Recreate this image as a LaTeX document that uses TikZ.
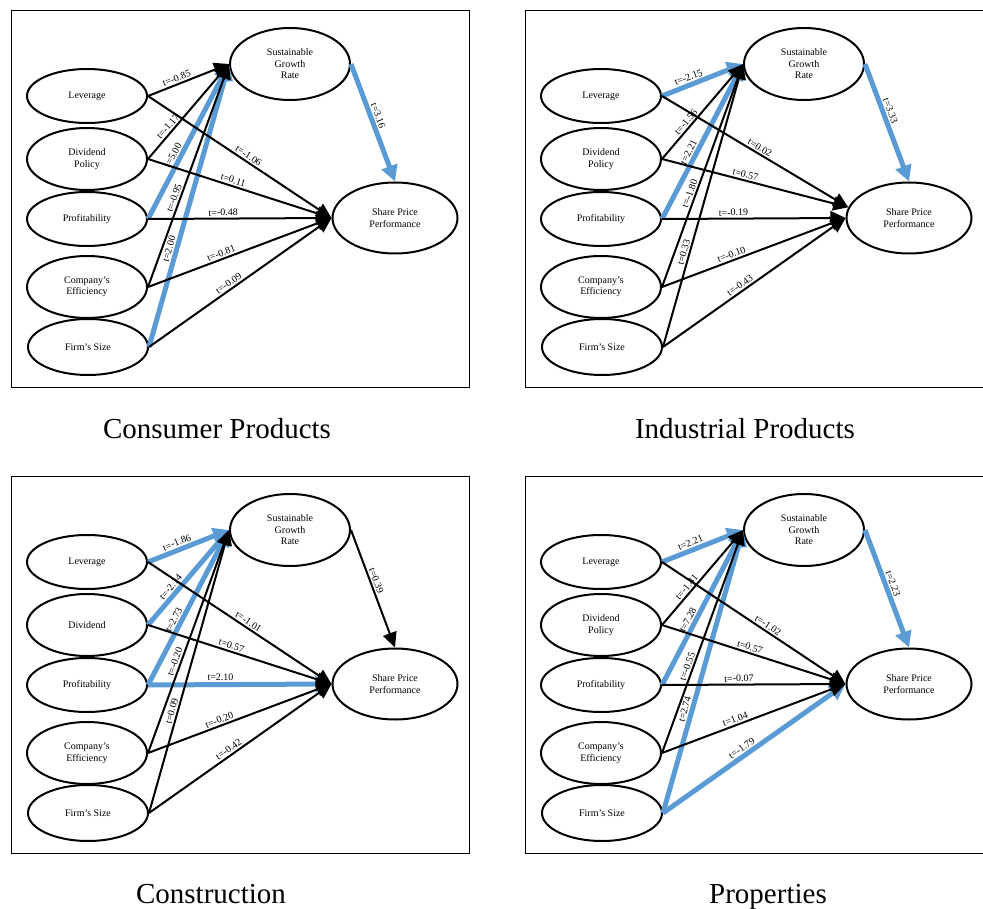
\documentclass[tikz,border=0pt]{standalone}
\usepackage{fontspec}
\setmainfont{Liberation Serif}
\usetikzlibrary{shapes.geometric,arrows.meta}
\definecolor{myblue}{RGB}{91,155,213}
\newcommand\panelnodes[4]{%
  \begin{scope}[shift={(#2,#3)}]
    \draw[panelframe] (11,10) rectangle (469,387);
    \node[var,minimum height=54pt] (#1lev) at (87,96) {Leverage};
    \node[var,minimum height=62pt] (#1div) at (87,159) {#4};
    \node[var,minimum height=54pt] (#1pro) at (87,219) {Profitability};
    \node[var,minimum height=62pt] (#1eff) at (87,287) {Company's\\Efficiency};
    \node[var,minimum height=56pt] (#1fir) at (88,347) {Firm's Size};
    \node[var,minimum height=72pt] (#1sgr) at (290,64) {Sustainable\\Growth\\Rate};
    \node[var,minimum height=71pt,minimum width=125pt] (#1spp) at (395,218) {Share Price\\Performance};
  \end{scope}}
\begin{document}
\begin{tikzpicture}[x=1pt,y=-1pt,
  var/.style={ellipse,draw,line width=2pt,minimum width=120pt,inner sep=0pt,align=center,
    font=\fontsize{10}{11.5}\selectfont},
  blk/.style={line width=2pt,-{Triangle[length=15pt,width=14pt]}},
  blu/.style={line width=5pt,draw=myblue,fill=myblue,-{Triangle[length=16pt,width=16pt]}},
  lab/.style={sloped,above,inner sep=1.5pt,font=\fontsize{10}{12}\selectfont,text=black},
  panelframe/.style={draw,line width=0.8pt},
  captext/.style={anchor=base,font=\fontsize{29}{34}\selectfont}]
\useasboundingbox (0,0) rectangle (983,909);

% ---------------- Panel A: Consumer Products
\panelnodes{A}{0}{0}{Dividend\\Policy}
\draw[blu] (Apro.east) -- (Asgr.west) node[lab,pos=.39]{t=5.00};
\draw[blu] (Afir.east) -- (Asgr.west) node[lab,pos=.34]{t=2.00};
\draw[blu] (Asgr.east) -- (Aspp.north) node[lab,pos=.46]{t=3.16};
\draw[blk] (Alev.east) -- (Asgr.west) node[lab,pos=.38]{t=-0.85};
\draw[blk] (Adiv.east) -- (Asgr.west) node[lab,pos=.30]{t=-1.17};
\draw[blk] (Aeff.east) -- (Asgr.west) node[lab,pos=.39]{t=-0.95};
\draw[blk] (Alev.east) -- (Aspp.west) node[lab,pos=.53]{t=-1.06};
\draw[blk] (Adiv.east) -- (Aspp.west) node[lab,pos=.455]{t=0.11};
\draw[blk] (Apro.east) -- (Aspp.west) node[lab,pos=.41]{t=-0.48};
\draw[blk] (Aeff.east) -- (Aspp.west) node[lab,pos=.41]{t=-0.81};
\draw[blk] (Afir.east) -- (Aspp.west) node[lab,pos=.455]{t=-0.09};
\node[captext] (capA) at (217,438) {Consumer Products};

% ---------------- Panel B: Industrial Products
\panelnodes{B}{514}{0}{Dividend\\Policy}
\draw[blu] (Blev.east) -- (Bsgr.west) node[lab,pos=.36]{t=-2.15};
\draw[blu] (Bpro.east) -- (Bsgr.west) node[lab,pos=.41]{t=2.21};
\draw[blu] (Bsgr.east) -- (Bspp.north) node[lab,pos=.42]{t=3.33};
\draw[blk] (Bdiv.east) -- (Bsgr.west) node[lab,pos=.35]{t=-1.56};
\draw[blk] (Beff.east) -- (Bsgr.west) node[lab,pos=.41]{t=-1.80};
\draw[blk] (Bfir.east) -- (Bsgr.west) node[lab,pos=.33]{t=0.33};
\draw[blk] (Blev.east) -- (Bspp.170) node[lab,pos=.51]{t=0.02};
\draw[blk] (Bdiv.east) -- (Bspp.170) node[lab,pos=.44]{t=0.57};
\draw[blk] (Bpro.east) -- (Bspp.west) node[lab,pos=.39]{t=-0.19};
\draw[blk] (Beff.east) -- (Bspp.west) node[lab,pos=.39]{t=-0.10};
\draw[blk] (Bfir.east) -- (Bspp.west) node[lab,pos=.44]{t=-0.43};
\node[captext] (capB) at (745,438) {Industrial Products};

% ---------------- Panel C: Construction
\panelnodes{C}{0}{466}{Dividend}
\draw[blu] (Clev.east) -- (Csgr.west) node[lab,pos=.39]{t=-1.86};
\draw[blu] (Cdiv.east) -- (Csgr.west) node[lab,pos=.35]{t=-2.14};
\draw[blu] (Cpro.east) -- (Csgr.west) node[lab,pos=.40]{t=2.73};
\draw[blu] (Cpro.east) -- (Cspp.west) node[lab,pos=.395]{t=2.10};
\draw[blk] (Ceff.east) -- (Csgr.west) node[lab,pos=.40]{t=-0.20};
\draw[blk] (Cfir.east) -- (Csgr.west) node[lab,pos=.355]{t=0.09};
\draw[blk] (Csgr.east) -- (Cspp.north) node[lab,pos=.45]{t=0.39};
\draw[blk] (Clev.east) -- (Cspp.west) node[lab,pos=.53]{t=-1.01};
\draw[blk] (Cdiv.east) -- (Cspp.west) node[lab,pos=.445]{t=0.57};
\draw[blk] (Ceff.east) -- (Cspp.west) node[lab,pos=.40]{t=-0.20};
\draw[blk] (Cfir.east) -- (Cspp.west) node[lab,pos=.455]{t=-0.42};
\node[captext] (capC) at (211,903) {Construction};

% ---------------- Panel D: Properties
\panelnodes{D}{514}{466}{Dividend\\Policy}
\draw[blu] (Dlev.east) -- (Dsgr.west) node[lab,pos=.385]{t=2.21};
\draw[blu] (Dpro.east) -- (Dsgr.west) node[lab,pos=.40]{t=7.28};
\draw[blu] (Dfir.east) -- (Dsgr.west) node[lab,pos=.36]{t=2.74};
\draw[blu] (Dfir.east) -- (Dspp.west) node[lab,pos=.455]{t=-1.79};
\draw[blu] (Dsgr.east) -- (Dspp.north) node[lab,pos=.48]{t=2.23};
\draw[blk] (Ddiv.east) -- (Dsgr.west) node[lab,pos=.36]{t=-1.41};
\draw[blk] (Deff.east) -- (Dsgr.west) node[lab,pos=.38]{t=-0.55};
\draw[blk] (Dlev.east) -- (Dspp.west) node[lab,pos=.56]{t=-1.02};
\draw[blk] (Ddiv.east) -- (Dspp.west) node[lab,pos=.47]{t=0.57};
\draw[blk] (Dpro.east) -- (Dspp.west) node[lab,pos=.42]{t=-0.07};
\draw[blk] (Deff.east) -- (Dspp.west) node[lab,pos=.41]{t=1.04};
\node[captext] (capD) at (768,903) {Properties};
\end{tikzpicture}
\end{document}
